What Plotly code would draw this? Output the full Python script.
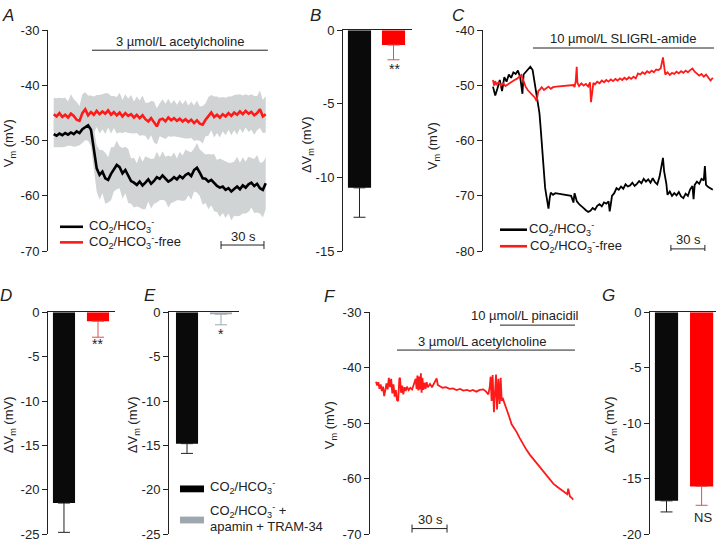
import plotly.graph_objects as go

W, H = 720, 546
FONT = "Liberation Sans, Arial, sans-serif"
INK = "#222222"
RED = "#ff1a1a"
RED_ERR = "#e05050"
GRAY_BAND = "rgb(208,212,212)"
GRAY_BAR = "#9ea7ae"

# ---------------- Panel A data (mean +/- SEM, 2 s sampling) ----------------
A_T = list(range(0, 150, 2))
A_BLACK = [-48.8, -49.1, -48.7, -49.0, -48.6, -48.9, -48.5, -48.8, -48.3, -48.6,
           -47.9, -47.5, -47.2, -48.0, -51.5, -55.0, -56.2, -55.6, -56.8, -57.1,
           -56.0, -55.2, -54.4, -54.8, -55.9, -55.3, -56.4, -57.3, -57.6, -58.0,
           -57.4, -58.1, -57.6, -57.0, -57.8, -57.3, -56.6, -56.9, -56.3, -56.9,
           -57.4, -57.1, -56.6, -57.0, -56.4, -56.8, -56.2, -55.9, -56.4, -55.3,
           -54.9, -55.8, -56.8, -56.9, -57.4, -57.1, -57.6, -58.2, -58.5, -58.3,
           -58.9, -58.6, -59.2, -58.7, -58.3, -58.8, -58.1, -58.5, -57.9, -57.6,
           -58.2, -57.8, -58.6, -58.9, -57.7]
A_BLACK_SEM = [2.4, 2.1, 2.6, 2.2, 2.5, 2.0, 2.4, 2.3, 2.7, 2.2,
               2.5, 2.4, 2.8, 3.0, 3.6, 4.2, 4.5, 3.9, 4.6, 4.1,
               4.8, 4.0, 4.4, 3.8, 4.6, 4.2, 4.9, 4.1, 4.5, 3.9,
               4.7, 4.3, 4.8, 4.0, 4.5, 4.1, 4.6, 3.9, 4.4, 4.0,
               4.7, 4.2, 4.5, 3.8, 4.4, 4.1, 4.6, 4.0, 4.3, 3.9,
               4.5, 4.2, 4.8, 4.4, 5.0, 4.6, 5.2, 4.7, 5.3, 4.8,
               5.1, 4.6, 5.2, 4.9, 5.4, 4.8, 5.1, 4.7, 5.0, 4.5,
               4.9, 5.2, 4.6, 5.0, 4.7]
A_RED = [-45.2, -45.6, -45.0, -45.7, -45.3, -45.8, -45.1, -45.5, -46.2, -46.4,
         -45.0, -44.3, -45.4, -44.8, -45.3, -44.6, -45.2, -44.7, -45.1, -44.5,
         -45.3, -44.8, -45.4, -44.9, -45.6, -45.0, -45.5, -45.2, -45.8, -45.3,
         -45.9, -45.4, -46.1, -46.5, -45.9, -46.6, -47.4, -46.2, -46.0, -46.5,
         -45.8, -46.3, -45.9, -46.4, -46.0, -46.5, -46.1, -46.6, -46.2, -46.8,
         -46.3, -46.9, -47.1, -46.2, -45.6, -44.9, -45.7, -45.3, -45.8, -45.2,
         -45.6, -45.0, -45.5, -44.9, -45.3, -44.7, -45.2, -44.6, -45.1, -44.8,
         -45.4, -45.0, -44.3, -45.6, -45.2]
A_RED_SEM = [3.0, 3.3, 2.8, 3.4, 3.1, 2.9, 3.5, 3.0, 3.2, 2.7,
             3.4, 3.1, 3.6, 3.0, 3.3, 2.9, 3.5, 3.2, 3.7, 3.1,
             3.4, 2.9, 3.3, 3.6, 3.0, 3.4, 3.1, 3.5, 2.9, 3.3,
             3.2, 3.6, 3.0, 3.4, 3.1, 3.7, 3.3, 3.0, 3.5, 3.2,
             3.4, 3.0, 3.3, 2.9, 3.4, 3.1, 3.5, 3.0, 3.3, 3.2,
             3.6, 3.1, 3.4, 3.0, 3.5, 3.2, 3.7, 3.3, 3.6, 3.1,
             3.4, 3.0, 3.5, 3.2, 3.6, 3.1, 3.4, 3.0, 3.3, 3.2,
             3.5, 3.1, 3.4, 3.0, 3.3]
A_DRUG = (26.7, 149.5)          # acetylcholine application (s)
A_SCALE = (116.8, 146.8)        # 30 s scale bar

# ---------------- Panel C data ----------------
C_BLACK = [(0, -50.2), (2, -51.8), (4, -50.5), (6, -49.0), (8, -51.0), (10, -48.5), (12, -49.3),
           (14, -48.0), (16, -48.6), (18, -47.6), (20, -47.9), (22, -47.3), (24, -48.5), (26, -51.5),
           (27, -48.0), (29, -47.5), (31, -47.0), (33, -46.6), (35, -47.2), (37, -49.8), (39, -52.0),
           (41, -55.0), (42, -57.5), (43, -60.5), (44, -64.0), (45, -66.5), (46, -68.5), (47, -69.8),
           (48, -71.0), (49, -72.3), (50, -70.5), (51, -69.4), (53, -69.8), (55, -69.5), (69, -70.0),
           (70, -70.5), (71, -71.2), (72, -69.5), (74, -71.0), (76, -71.5), (78, -71.8), (80, -72.2),
           (82, -72.6), (84, -72.9), (86, -72.7), (88, -72.2), (90, -72.5), (92, -71.8), (94, -71.5),
           (96, -71.9), (98, -71.2), (100, -71.4), (102, -71.0), (103, -72.8), (104, -71.5), (105, -70.0),
           (107, -69.5), (109, -68.6), (111, -68.9), (113, -68.3), (115, -68.7), (117, -67.9), (119, -68.3),
           (121, -68.1), (123, -67.6), (125, -68.2), (127, -67.8), (129, -67.3), (131, -67.7), (133, -66.9),
           (135, -67.4), (137, -67.0), (139, -67.6), (141, -66.8), (143, -67.5), (145, -67.9), (147, -66.5),
           (149, -64.5), (150, -63.1), (151, -65.5), (153, -67.8), (154, -69.8), (156, -69.2), (158, -70.0),
           (160, -69.5), (162, -69.9), (164, -69.3), (166, -70.1), (168, -70.4), (170, -69.6), (172, -70.0),
           (174, -68.8), (176, -68.2), (177, -70.6), (178, -68.0), (180, -67.4), (182, -67.8), (184, -66.9),
           (186, -67.2), (187, -64.6), (188, -68.0), (190, -68.4), (192, -68.7), (194, -68.9)]
C_RED = [(0, -49.0), (1, -50.0), (2, -49.2), (3, -49.8), (5, -49.4), (7, -50.0), (9, -49.6), (11, -50.1),
         (13, -49.8), (15, -49.5), (17, -49.3), (19, -49.0), (21, -48.8), (23, -48.4), (25, -48.1),
         (27, -49.2), (29, -50.3), (31, -50.9), (33, -51.3), (35, -51.7), (37, -52.2), (38.5, -52.8),
         (40, -51.0), (41.5, -50.7), (43, -50.3), (45, -50.8), (47, -50.5), (49, -50.2), (51, -50.6),
         (53, -50.3), (56, -50.2), (71, -49.9), (72, -50.3), (73, -49.2), (73.9, -46.6), (74.5, -49.5),
         (76, -50.1), (78, -49.6), (80, -50.0), (82, -49.7), (84, -50.2), (85.6, -49.4), (86.5, -53.0),
         (87.5, -50.8), (88.6, -49.5), (90, -49.8), (92, -49.3), (94, -49.6), (96, -49.1), (98, -49.4),
         (100, -49.0), (102, -49.3), (104, -48.9), (106, -49.2), (108, -48.8), (110, -49.1), (112, -48.7),
         (114, -49.0), (116, -48.6), (118, -48.9), (120, -48.5), (122, -48.8), (124, -48.4), (126, -48.7),
         (128, -47.8), (130, -48.0), (132, -47.6), (134, -47.9), (136, -47.4), (138, -47.7), (140, -47.3),
         (142, -47.6), (144, -47.1), (146, -47.2), (148, -46.9), (150, -44.9), (151, -46.5), (152, -48.0),
         (154, -47.6), (156, -48.1), (158, -47.7), (160, -47.9), (162, -47.5), (164, -47.8), (166, -47.4),
         (168, -47.7), (170, -47.3), (172, -47.6), (174, -47.2), (176, -46.9), (178, -47.5), (180, -47.8),
         (182, -48.2), (184, -47.9), (186, -48.4), (188, -48.0), (190, -48.5), (192, -49.1), (194, -48.6)]
C_DRUG = (35.3, 195.0)
C_SCALE = (157.0, 187.0)

# ---------------- Panel F data ----------------
F_TRACE = [(0, -42.5), (1, -43.2), (2, -42.6), (3, -43.8), (4, -43.0), (5, -44.2), (6, -43.4), (7, -45.1),
           (8, -44.0), (9, -42.8), (10, -43.9), (11, -41.8), (12, -43.5), (13, -42.0), (14, -44.6),
           (15, -43.0), (16, -45.2), (17, -44.0), (18, -45.8), (19, -46.0), (20, -42.0), (20.6, -41.8),
           (21.5, -44.5), (22.5, -43.2), (23.4, -44.8), (24.5, -43.5), (25.5, -44.2), (26.5, -43.4),
           (28, -44.0), (29.5, -43.6), (31, -43.9), (32, -43.3), (33, -42.9), (34, -42.0), (34.8, -43.8),
           (35.5, -41.4), (36.3, -44.1), (37, -41.6), (37.8, -43.9), (38.5, -41.0), (39.1, -44.5),
           (39.8, -41.8), (40.6, -44.0), (41.5, -42.7), (42.5, -43.8), (43.4, -42.6), (44.5, -43.5),
           (46.3, -42.9), (48, -43.5), (50, -42.8), (51, -42.4), (52, -41.9), (53, -43.1), (54.9, -43.3),
           (57, -43.6), (60, -43.5), (63, -43.8), (66, -43.7), (69, -44.0), (72, -43.8), (75, -44.1),
           (78, -44.0), (80.6, -44.2), (83, -44.0), (86, -44.3), (89, -44.0), (92, -43.9), (94, -44.2),
           (96.3, -44.8), (97.5, -43.5), (98.3, -41.6), (99.1, -46.0), (100, -41.3), (101.1, -48.0),
           (102, -43.0), (102.9, -41.2), (103.8, -47.5), (104.9, -42.0), (106, -46.5), (106.9, -41.8),
           (107.8, -46.0), (108.6, -45.4), (110, -46.3), (112, -47.4), (114, -48.7), (116.3, -50.2),
           (118.5, -50.9), (120.6, -51.6), (123, -52.6), (126.3, -53.9), (129, -54.8), (132, -55.7),
           (135, -56.5), (137.7, -57.3), (140.5, -58.0), (143.4, -58.8), (146, -59.5), (149.1, -60.3),
           (152, -60.9), (155, -61.4), (157.7, -61.8), (160, -62.3), (162, -62.6), (164, -62.8),
           (164.8, -61.8), (165.5, -62.9), (166.3, -63.2), (168, -63.5), (169.1, -63.8)]
F_ACH = (18.0, 170.6)
F_PINA = (106.3, 170.6)
F_SCALE = (30.9, 60.9)

# ---------------- Bar panels ----------------
B_VALS = [-10.7, -1.0]
B_ERR = [2.0, 1.0]
D_VALS = [-21.5, -1.0]
D_ERR = [3.3, 1.8]
E_VALS = [-14.8, -0.2]
E_ERR = [1.1, 1.2]
G_VALS = [-17.0, -15.7]
G_ERR = [1.0, 1.7]


def hx(x):
    return x / W


def hy(y):
    return 1 - y / H


fig = go.Figure()

# ---- Panel A ----
for mean, sem in ((A_BLACK, A_BLACK_SEM), (A_RED, A_RED_SEM)):
    up = [m + s for m, s in zip(mean, sem)]
    lo = [m - s for m, s in zip(mean, sem)]
    fig.add_trace(go.Scatter(x=A_T, y=up, mode="lines", line=dict(width=0, color=GRAY_BAND),
                             xaxis="x", yaxis="y", showlegend=False, hoverinfo="skip"))
    fig.add_trace(go.Scatter(x=A_T, y=lo, mode="lines", line=dict(width=0, color=GRAY_BAND),
                             fill="tonexty", fillcolor=GRAY_BAND, xaxis="x", yaxis="y",
                             showlegend=False, hoverinfo="skip"))
fig.add_trace(go.Scatter(x=A_T, y=A_BLACK, mode="lines", line=dict(color="black", width=2.6),
                         xaxis="x", yaxis="y", showlegend=False))
fig.add_trace(go.Scatter(x=A_T, y=A_RED, mode="lines", line=dict(color=RED, width=2.6),
                         xaxis="x", yaxis="y", showlegend=False))

# ---- Panel C ----
fig.add_trace(go.Scatter(x=[p[0] for p in C_BLACK], y=[p[1] for p in C_BLACK], mode="lines",
                         line=dict(color="black", width=1.8), xaxis="x3", yaxis="y3", showlegend=False))
fig.add_trace(go.Scatter(x=[p[0] for p in C_RED], y=[p[1] for p in C_RED], mode="lines",
                         line=dict(color=RED, width=1.8), xaxis="x3", yaxis="y3", showlegend=False))

# ---- Panel F ----
fig.add_trace(go.Scatter(x=[p[0] for p in F_TRACE], y=[p[1] for p in F_TRACE], mode="lines",
                         line=dict(color=RED, width=1.8), xaxis="x6", yaxis="y6", showlegend=False))


def add_bar(ax, idx, val, err, color, errcolor, width):
    fig.add_trace(go.Bar(x=[idx], y=[val], width=width, marker=dict(color=color, line=dict(width=0)),
                         error_y=dict(type="data", symmetric=False, array=[0], arrayminus=[err],
                                      color=errcolor, thickness=1, width=6),
                         xaxis="x" + ax, yaxis="y" + ax, showlegend=False))


add_bar("2", 0, B_VALS[0], B_ERR[0], "#0a0a0a", INK, 0.68)
add_bar("2", 1, B_VALS[1], B_ERR[1], "#ff0000", RED_ERR, 0.68)
add_bar("4", 0, D_VALS[0], D_ERR[0], "#0a0a0a", INK, 0.65)
add_bar("4", 1, D_VALS[1], D_ERR[1], "#ff0000", RED_ERR, 0.65)
add_bar("5", 0, E_VALS[0], E_ERR[0], "#0a0a0a", INK, 0.65)
add_bar("5", 1, E_VALS[1], E_ERR[1], GRAY_BAR, GRAY_BAR, 0.65)
add_bar("7", 0, G_VALS[0], G_ERR[0], "#0a0a0a", INK, 0.66)
add_bar("7", 1, G_VALS[1], G_ERR[1], "#ff0000", RED_ERR, 0.66)

TOP = [hy(251), hy(24)]
BOT = [hy(542), hy(314)]


def yax(dom, rng, ticks, anchor):
    return dict(domain=dom, range=rng, tickvals=ticks, ticktext=[str(t) for t in ticks],
                showline=True, linecolor=INK, linewidth=1, ticks="outside", ticklen=5,
                tickwidth=1, tickcolor=INK, showgrid=False, zeroline=False,
                tickfont=dict(family=FONT, size=13, color=INK), anchor=anchor, fixedrange=True)


def xhidden(dom, rng, anchor):
    return dict(domain=dom, range=rng, visible=False, anchor=anchor, fixedrange=True)


def xtop(dom, rng, anchor):
    return dict(domain=dom, range=rng, side="top", showline=True, linecolor=INK, linewidth=1,
                showticklabels=False, ticks="", showgrid=False, zeroline=False, anchor=anchor,
                fixedrange=True)


fig.update_layout(
    width=W, height=H, margin=dict(l=0, r=0, t=0, b=0),
    paper_bgcolor="white", plot_bgcolor="white", barmode="overlay",
    font=dict(family=FONT, size=12, color=INK),
    xaxis=xhidden([hx(48), hx(270)], [-4, 151], "y"),
    yaxis=yax(TOP, [-70, -30], [-30, -40, -50, -60, -70], "x"),
    xaxis2=xtop([hx(343), hx(412)], [-0.485, 1.544], "y2"),
    yaxis2=yax(TOP, [-15, 0], [0, -5, -10, -15], "x2"),
    xaxis3=xhidden([hx(483), hx(716)], [-8.8, 196.8], "y3"),
    yaxis3=yax(TOP, [-80, -40], [-40, -50, -60, -70, -80], "x3"),
    xaxis4=xtop([hx(48), hx(115)], [-0.47, 1.5], "y4"),
    yaxis4=yax(BOT, [-25, 0], [0, -5, -10, -15, -20, -25], "x4"),
    xaxis5=xtop([hx(169), hx(239)], [-0.53, 1.53], "y5"),
    yaxis5=yax(BOT, [-25, 0], [0, -5, -10, -15, -20, -25], "x5"),
    xaxis6=xhidden([hx(370), hx(580)], [-5.14, 174.9], "y6"),
    yaxis6=yax(BOT, [-70, -30], [-30, -40, -50, -60, -70], "x6"),
    xaxis7=xtop([hx(650), hx(716)], [-0.47, 1.41], "y7"),
    yaxis7=yax(BOT, [-20, 0], [0, -5, -10, -15, -20], "x7"),
)

shapes = []
ann = []


def hline(xref, yref, x0, x1, y, color=INK, width=1):
    shapes.append(dict(type="line", xref=xref, yref=yref, x0=x0, x1=x1, y0=y, y1=y,
                       line=dict(color=color, width=width)))


def scalebar(xref, yref, x0, x1, y):
    hline(xref, yref, x0, x1, y)
    for xv in (x0, x1):
        shapes.append(dict(type="line", xref=xref, yref=yref, ysizemode="pixel", yanchor=y,
                           x0=xv, x1=xv, y0=-4, y1=4, line=dict(color=INK, width=1)))


def text(x, y, s, size=12, xanchor="center", italic=False, angle=0):
    ann.append(dict(x=hx(x), y=hy(y), xref="paper", yref="paper", text=s, showarrow=False,
                    xanchor=xanchor, yanchor="middle", textangle=angle,
                    font=dict(family=FONT, size=size, color=INK,
                              style="italic" if italic else "normal")))


# Drug bars and scale bars
hline("x", "y", A_DRUG[0], A_DRUG[1], -33.6)
scalebar("x", "y", A_SCALE[0], A_SCALE[1], -68.9)
hline("x3", "y3", C_DRUG[0], C_DRUG[1], -43.2)
scalebar("x3", "y3", C_SCALE[0], C_SCALE[1], -79.6)
hline("x6", "y6", F_ACH[0], F_ACH[1], -36.8)
hline("x6", "y6", F_PINA[0], F_PINA[1], -32.3)
scalebar("x6", "y6", F_SCALE[0], F_SCALE[1], -69.0)

# Legends A and C (lines)
for (x0, x1, y, c) in [(60, 83, 226, "black"), (60, 83, 242, RED),
                       (500, 527, 229, "black"), (500, 527, 246, RED)]:
    shapes.append(dict(type="line", xref="paper", yref="paper", x0=hx(x0), x1=hx(x1),
                       y0=hy(y), y1=hy(y), line=dict(color=c, width=2.6)))
# Legend E (boxes)
for (y0, y1, c) in [(492, 499, "black"), (524, 531, GRAY_BAR)]:
    shapes.append(dict(type="rect", xref="paper", yref="paper", x0=hx(180), x1=hx(204),
                       y0=hy(y1), y1=hy(y0), fillcolor=c, line=dict(width=0)))

CO2 = "CO<sub>2</sub>/HCO<sub>3</sub><sup>-</sup>"
text(87, 225, CO2, 13, "left")
text(87, 242, CO2 + "-free", 13, "left")
text(527, 228, CO2, 13, "left")
text(528, 246, CO2 + "-free", 13, "left")
text(208, 494, CO2, 13, "left")
text(208, 518, CO2 + " +", 13, "left")
text(208, 534, "apamin + TRAM-34", 13, "left")

text(180, 35, "3 µmol/L acetylcholine", 13)
text(623, 32, "10 µmol/L SLIGRL-amide", 13)
text(525, 317, "10 µmol/L pinacidil", 13)
text(482, 344, "3 µmol/L acetylcholine", 13)
text(243, 236, "30 s", 13)
text(688, 239, "30 s", 13)
text(430, 527, "30 s", 13)

text(394, 64, "**", 14)
text(98, 347, "**", 14)
text(221, 336, "*", 14)
text(703, 525, "NS", 13)

VM = "V<sub>m</sub> (mV)"
DVM = "ΔV<sub>m</sub> (mV)"
text(9, 140, VM, 13, angle=-90)
text(307, 142, DVM, 13, angle=-90)
text(433, 143, VM, 13, angle=-90)
text(9, 430, DVM, 13, angle=-90)
text(133, 430, DVM, 13, angle=-90)
text(330, 430, VM, 13, angle=-90)
text(610, 430, DVM, 13, angle=-90)

for (x, y, s) in [(8, 9, "A"), (315, 9, "B"), (458, 9, "C"), (6, 297, "D"),
                  (150, 297, "E"), (330, 298, "F"), (608, 297, "G")]:
    text(x, y, s, 17, italic=True)

fig.update_layout(shapes=shapes, annotations=ann)
fig.write_html("out.html", config={"displayModeBar": False},
               post_script="document.body.style.margin='0';document.body.style.overflow='hidden';")
